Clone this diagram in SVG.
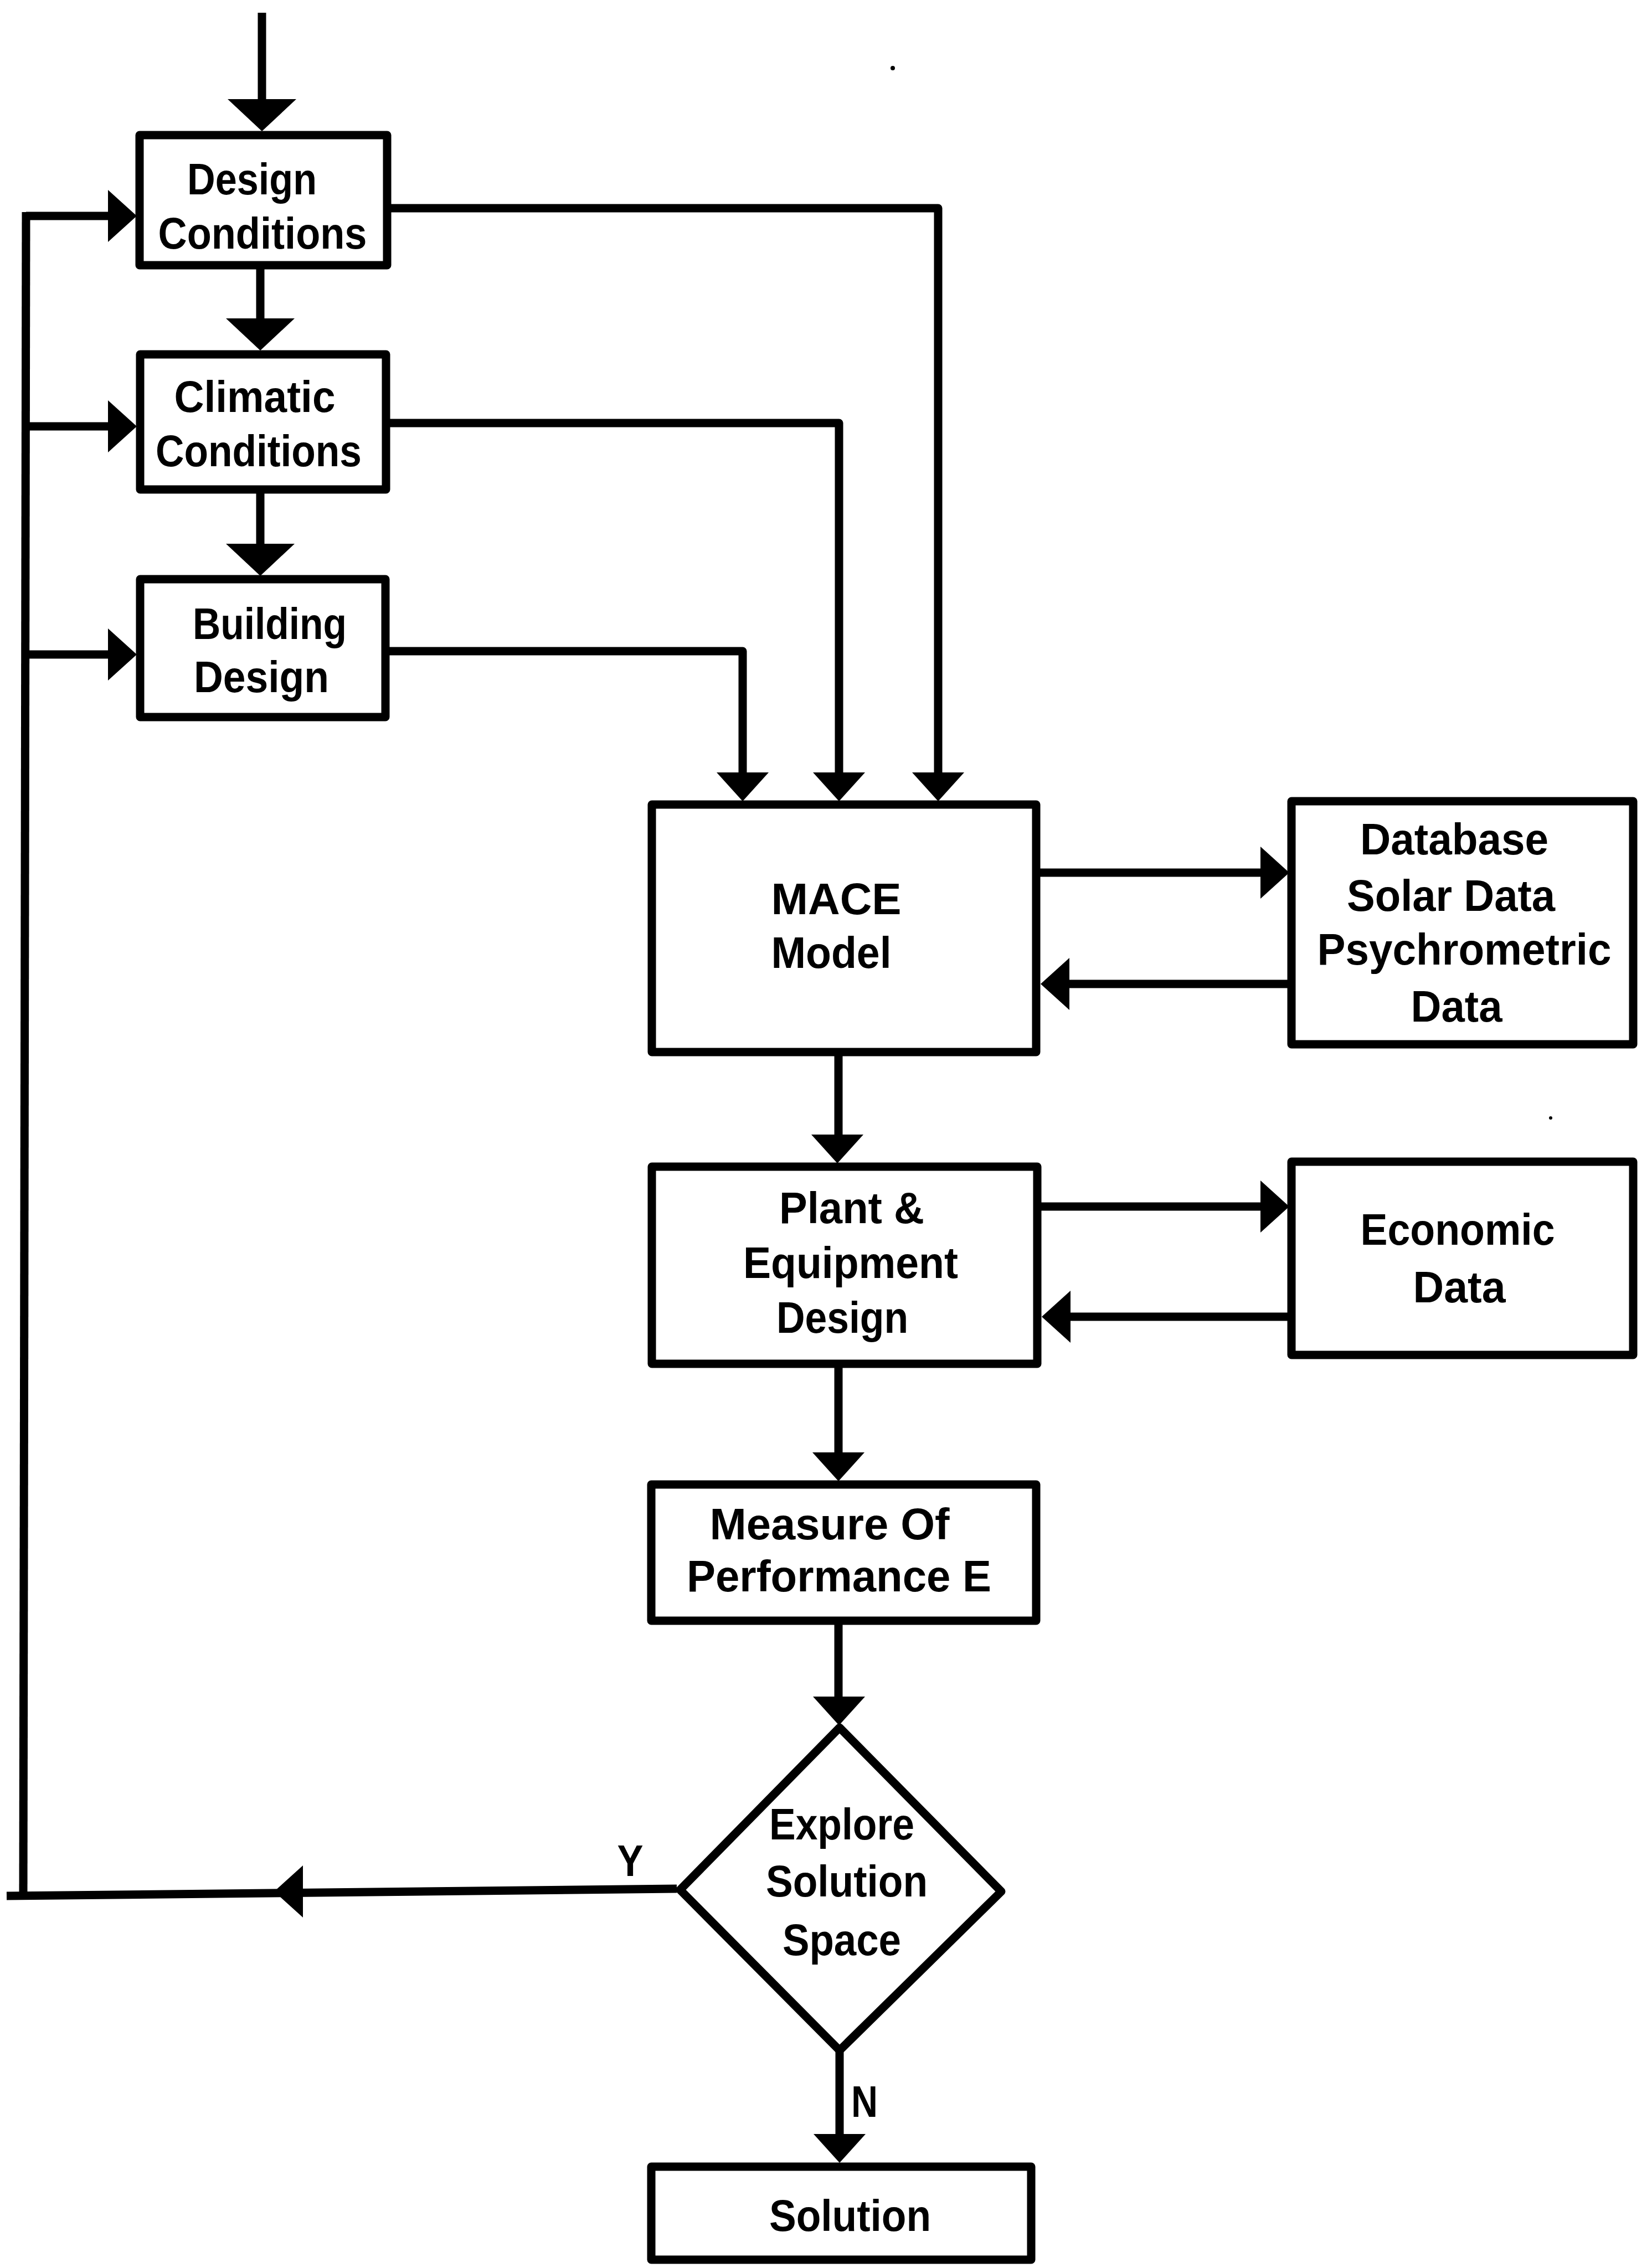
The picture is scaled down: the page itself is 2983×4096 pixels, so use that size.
<svg xmlns="http://www.w3.org/2000/svg" xmlns:xlink="http://www.w3.org/1999/xlink" width="2983" height="4096" viewBox="0 0 2983 4096">
  <style>
    .box { fill: #fff; stroke: #000; stroke-width: 15; stroke-linejoin: round; }
    .wire { fill: none; stroke: #000; stroke-width: 15; stroke-linecap: butt; stroke-linejoin: round; }
    .lbl { font-family: "Liberation Sans", Arial, sans-serif; font-weight: bold; font-size: 80px; fill: #000; text-anchor: middle; }
    .head { fill: #000; }
  </style>
  <defs>
    <!-- arrowheads, tip at origin, pointing down (+y) -->
    <path id="ahBig" class="head" d="M0,0 L-62,-58 L62,-58 Z"/>
    <path id="ah" class="head" d="M0,0 L-47,-52 L47,-52 Z"/>
  </defs>

  <rect width="2983" height="4096" fill="#fff"/>

  <g id="connectors">
    <path class="wire" d="M473,23 V185"/>
    <path class="wire" d="M470,479 V580"/>
    <path class="wire" d="M470,884 V985"/>
    <!-- feedback loop from decision back to the inputs -->
    <path class="wire" d="M1222,3411 L12,3424"/>
    <path class="wire" d="M47,383 L42,3424"/>
    <path class="wire" d="M47,390 H200"/>
    <path class="wire" d="M45,770 H200"/>
    <path class="wire" d="M44,1182 H200"/>
    <!-- inputs into the model -->
    <path class="wire" d="M699,376 H1694 V1400"/>
    <path class="wire" d="M697,764 H1515 V1400"/>
    <path class="wire" d="M696,1176 H1341 V1400"/>
    <path class="wire" d="M1871,1576 H2285"/>
    <path class="wire" d="M2332,1777 H1925"/>
    <path class="wire" d="M1514,1900 V2055"/>
    <path class="wire" d="M1873,2179 H2285"/>
    <path class="wire" d="M2332,2378 H1925"/>
    <path class="wire" d="M1514,2463 V2630"/>
    <path class="wire" d="M1514,2927 V3070"/>
    <path class="wire" d="M1516,3703 V3860"/>

    <use xlink:href="#ahBig" href="#ahBig" transform="translate(473,237)"/>
    <use xlink:href="#ahBig" href="#ahBig" transform="translate(470,633)"/>
    <use xlink:href="#ahBig" href="#ahBig" transform="translate(470,1040)"/>
    <use xlink:href="#ah" href="#ah" transform="translate(247,390) rotate(-90)"/>
    <use xlink:href="#ah" href="#ah" transform="translate(247,770) rotate(-90)"/>
    <use xlink:href="#ah" href="#ah" transform="translate(247,1182) rotate(-90)"/>
    <use xlink:href="#ah" href="#ah" transform="translate(1341,1447)"/>
    <use xlink:href="#ah" href="#ah" transform="translate(1515,1447)"/>
    <use xlink:href="#ah" href="#ah" transform="translate(1694,1447)"/>
    <use xlink:href="#ah" href="#ah" transform="translate(2328,1576) rotate(-90)"/>
    <use xlink:href="#ah" href="#ah" transform="translate(1879,1777) rotate(90)"/>
    <use xlink:href="#ah" href="#ah" transform="translate(1512,2101)"/>
    <use xlink:href="#ah" href="#ah" transform="translate(2328,2179) rotate(-90)"/>
    <use xlink:href="#ah" href="#ah" transform="translate(1881,2378) rotate(90)"/>
    <use xlink:href="#ah" href="#ah" transform="translate(1514,2675)"/>
    <use xlink:href="#ah" href="#ah" transform="translate(1515,3116)"/>
    <use xlink:href="#ah" href="#ah" transform="translate(495,3416) rotate(90)"/>
    <use xlink:href="#ah" href="#ah" transform="translate(1516,3906)"/>

    <text class="lbl" x="1138" y="3388" textLength="47" lengthAdjust="spacingAndGlyphs">Y</text>
    <text class="lbl" x="1561" y="3823" textLength="48" lengthAdjust="spacingAndGlyphs">N</text>
  </g>

  <g id="design-conditions">
    <rect class="box" x="252" y="244" width="447" height="235"/>
    <text class="lbl" x="455" y="351" textLength="234" lengthAdjust="spacingAndGlyphs">Design</text>
    <text class="lbl" x="474" y="449" textLength="377" lengthAdjust="spacingAndGlyphs">Conditions</text>
  </g>

  <g id="climatic-conditions">
    <rect class="box" x="253" y="640" width="444" height="244"/>
    <text class="lbl" x="460" y="744" textLength="291" lengthAdjust="spacingAndGlyphs">Climatic</text>
    <text class="lbl" x="467" y="842" textLength="372" lengthAdjust="spacingAndGlyphs">Conditions</text>
  </g>

  <g id="building-design">
    <rect class="box" x="253" y="1046" width="443" height="249"/>
    <text class="lbl" x="487" y="1154" textLength="278" lengthAdjust="spacingAndGlyphs">Building</text>
    <text class="lbl" x="472" y="1250" textLength="244" lengthAdjust="spacingAndGlyphs">Design</text>
  </g>

  <g id="mace-model">
    <rect class="box" x="1177" y="1453" width="694" height="447"/>
    <text class="lbl" x="1510" y="1651" textLength="235" lengthAdjust="spacingAndGlyphs">MACE</text>
    <text class="lbl" x="1501" y="1748" textLength="217" lengthAdjust="spacingAndGlyphs">Model</text>
  </g>

  <g id="database">
    <rect class="box" x="2332" y="1447" width="617" height="439"/>
    <text class="lbl" x="2626" y="1543" textLength="340" lengthAdjust="spacingAndGlyphs">Database</text>
    <text class="lbl" x="2620" y="1645" textLength="376" lengthAdjust="spacingAndGlyphs">Solar Data</text>
    <text class="lbl" x="2644" y="1742" textLength="531" lengthAdjust="spacingAndGlyphs">Psychrometric</text>
    <text class="lbl" x="2630" y="1845" textLength="165" lengthAdjust="spacingAndGlyphs">Data</text>
  </g>

  <g id="plant-equipment">
    <rect class="box" x="1177" y="2107" width="696" height="356"/>
    <text class="lbl" x="1538" y="2209" textLength="262" lengthAdjust="spacingAndGlyphs">Plant &amp;</text>
    <text class="lbl" x="1536" y="2308" textLength="388" lengthAdjust="spacingAndGlyphs">Equipment</text>
    <text class="lbl" x="1521" y="2407" textLength="238" lengthAdjust="spacingAndGlyphs">Design</text>
  </g>

  <g id="economic-data">
    <rect class="box" x="2332" y="2098" width="617" height="349"/>
    <text class="lbl" x="2632" y="2248" textLength="351" lengthAdjust="spacingAndGlyphs">Economic</text>
    <text class="lbl" x="2635" y="2352" textLength="167" lengthAdjust="spacingAndGlyphs">Data</text>
  </g>

  <g id="measure-of-performance">
    <rect class="box" x="1176" y="2681" width="695" height="246"/>
    <text class="lbl" x="1498" y="2780" textLength="433" lengthAdjust="spacingAndGlyphs">Measure Of</text>
    <text class="lbl" x="1515" y="2874" textLength="550" lengthAdjust="spacingAndGlyphs">Performance E</text>
  </g>

  <g id="explore-decision">
    <path class="box" d="M1516,3120 L1808,3416 L1516,3703 L1228,3413 Z"/>
    <text class="lbl" x="1520" y="3322" textLength="262" lengthAdjust="spacingAndGlyphs">Explore</text>
    <text class="lbl" x="1529" y="3425" textLength="292" lengthAdjust="spacingAndGlyphs">Solution</text>
    <text class="lbl" x="1520" y="3531" textLength="214" lengthAdjust="spacingAndGlyphs">Space</text>
  </g>

  <g id="solution">
    <rect class="box" x="1176" y="3913" width="686" height="168"/>
    <text class="lbl" x="1535" y="4029" textLength="292" lengthAdjust="spacingAndGlyphs">Solution</text>
  </g>

  <!-- stray ink specks -->
  <circle cx="1612" cy="123" r="4" fill="#000"/>
  <circle cx="2800" cy="2019" r="3" fill="#000"/>
</svg>
